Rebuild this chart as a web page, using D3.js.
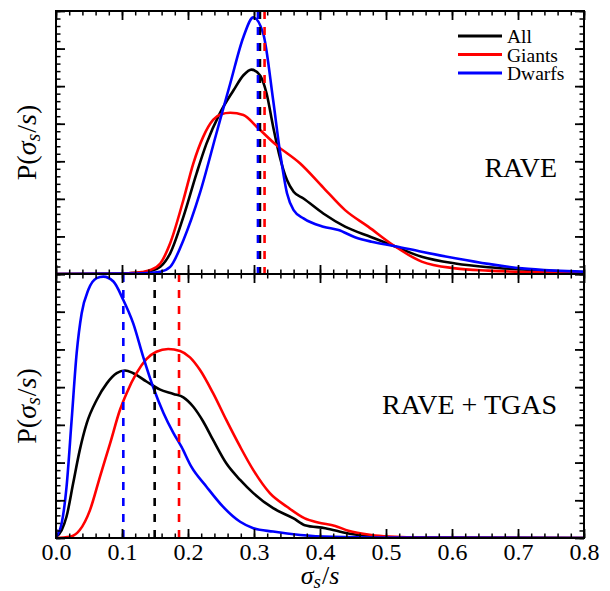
<!DOCTYPE html>
<html>
<head>
<meta charset="utf-8">
<script src="https://cdn.jsdelivr.net/npm/d3@7"></script>
<style>
  body { margin: 0; background: #fff; }
  text { font-family: "Liberation Serif", "DejaVu Serif", serif; fill: #000; }
</style>
</head>
<body>
<svg id="chart"></svg>
<script>
// x tick labels shared by both panels
const xTicks = [0, 0.1, 0.2, 0.3, 0.4, 0.5, 0.6, 0.7, 0.8];
const seriesNames = ['All', 'Giants', 'Dwarfs'];

// RAVE panel: [sigma_s/s, density]
const raveAll = [[0,0],[0.08,0.005],[0.11,0.02],[0.13,0.04],[0.142,0.07],[0.158,0.19],[0.173,0.55],[0.193,1.52],[0.213,2.68],[0.228,3.47],[0.248,4.27],[0.269,4.89],[0.284,5.29],[0.296,5.44],[0.309,5.29],[0.319,4.81],[0.329,3.92],[0.339,3.12],[0.35,2.5],[0.36,2.19],[0.375,2.01],[0.405,1.61],[0.438,1.26],[0.478,0.98],[0.514,0.73],[0.554,0.46],[0.605,0.28],[0.655,0.18],[0.706,0.12],[0.8,0.05]];
const raveGiants = [[0,0],[0.08,0.005],[0.11,0.02],[0.13,0.05],[0.142,0.1],[0.158,0.28],[0.173,0.82],[0.193,1.97],[0.208,2.94],[0.223,3.65],[0.238,4.1],[0.25,4.25],[0.264,4.29],[0.284,4.23],[0.304,3.92],[0.334,3.43],[0.37,2.94],[0.405,2.3],[0.438,1.7],[0.473,1.26],[0.514,0.73],[0.554,0.33],[0.605,0.15],[0.655,0.09],[0.73,0.05],[0.8,0.04]];
const raveDwarfs = [[0,0],[0.1,0.01],[0.13,0.02],[0.142,0.03],[0.158,0.06],[0.173,0.19],[0.193,0.9],[0.218,2.15],[0.243,3.74],[0.264,5.07],[0.284,6.31],[0.299,6.83],[0.314,6.4],[0.329,4.63],[0.339,3.3],[0.35,2.15],[0.36,1.7],[0.375,1.48],[0.405,1.26],[0.428,1.17],[0.453,0.98],[0.478,0.86],[0.514,0.74],[0.554,0.59],[0.605,0.42],[0.655,0.27],[0.706,0.15],[0.756,0.09],[0.8,0.06]];
const raveMedians = [0.309, 0.316, 0.306];

// RAVE + TGAS panel
const tgasAll = [[0,0.03],[0.0086,0.21],[0.016,0.57],[0.026,1.45],[0.036,2.33],[0.0465,3.04],[0.0616,3.66],[0.077,4.1],[0.092,4.37],[0.1045,4.44],[0.117,4.37],[0.137,4.15],[0.157,3.94],[0.178,3.82],[0.193,3.73],[0.208,3.48],[0.223,3.09],[0.238,2.6],[0.258,1.98],[0.279,1.54],[0.299,1.19],[0.329,0.79],[0.36,0.52],[0.377,0.34],[0.408,0.26],[0.443,0.12],[0.478,0.04],[0.52,0.01],[0.8,0]];
const tgasGiants = [[0,0],[0.021,0.03],[0.036,0.21],[0.0515,0.74],[0.0667,1.63],[0.082,2.51],[0.097,3.4],[0.107,3.84],[0.122,4.37],[0.137,4.74],[0.152,4.94],[0.17,5.01],[0.188,4.96],[0.203,4.79],[0.218,4.46],[0.238,3.84],[0.258,3.13],[0.279,2.42],[0.299,1.8],[0.324,1.19],[0.35,0.83],[0.377,0.52],[0.397,0.41],[0.423,0.32],[0.443,0.19],[0.478,0.08],[0.505,0.04],[0.56,0.01],[0.8,0]];
const tgasDwarfs = [[0,0.03],[0.0086,0.39],[0.016,1.36],[0.0237,3.13],[0.0313,4.9],[0.0389,5.96],[0.049,6.58],[0.0616,6.89],[0.0717,6.93],[0.087,6.8],[0.102,6.31],[0.117,5.69],[0.132,4.81],[0.147,4.01],[0.163,3.31],[0.178,2.78],[0.19,2.42],[0.205,1.89],[0.228,1.36],[0.253,0.83],[0.279,0.43],[0.299,0.26],[0.329,0.17],[0.37,0.08],[0.42,0.03],[0.5,0.01],[0.8,0]];
const tgasMedians = [0.1495, 0.1864, 0.102];

const width = 610, height = 591;
const left = 56, right = 584;

const color = d3.scaleOrdinal().domain(seriesNames).range(['#000000', '#ff0000', '#0000ff']);

const svg = d3.select('#chart').attr('width', width).attr('height', height);

const x = d3.scaleLinear().domain([0, 0.8]).range([left, right]);

const panels = [
  { name: 'RAVE', top: 11, bottom: 274, curves: [raveAll, raveGiants, raveDwarfs], medians: raveMedians, labelY: 177, last: false },
  { name: 'RAVE + TGAS', top: 274, bottom: 538, curves: [tgasAll, tgasGiants, tgasDwarfs], medians: tgasMedians, labelY: 414, last: true }
];

function styleAxis(g, w) {
  g.select('.domain').remove();
  g.selectAll('line').attr('stroke', '#000').attr('stroke-width', w);
  g.attr('font-family', null).attr('font-size', null);
}

// subscripted label: sigma_s / s
function mathLabel(t, withP, subSize) {
  if (withP) t.append('tspan').text('P(');
  t.append('tspan').attr('font-style', 'italic').text('σ');
  t.append('tspan').attr('font-style', 'italic').attr('font-size', subSize).attr('dy', 3.5).text('s');
  t.append('tspan').attr('dy', -3.5).attr('dx', 1).text('/');
  t.append('tspan').attr('font-style', 'italic').text('s');
  if (withP) t.append('tspan').text(')');
}

panels.forEach((p, pi) => {
  const y = d3.scaleLinear().domain([0, 7]).range([p.bottom, p.top]);
  const g = svg.append('g');

  const clipId = 'clip' + pi;
  svg.append('clipPath').attr('id', clipId)
    .append('rect')
    .attr('x', left).attr('y', p.top)
    .attr('width', right - left).attr('height', p.bottom - p.top);

  const line = d3.line()
    .x(d => x(d[0]))
    .y(d => y(d[1]))
    .curve(d3.curveMonotoneX);

  const plot = g.append('g').attr('clip-path', `url(#${clipId})`);

  p.curves.forEach((c, i) => {
    plot.append('path')
      .datum(c)
      .attr('fill', 'none')
      .attr('stroke', color(seriesNames[i]))
      .attr('stroke-width', 2.6)
      .attr('stroke-linejoin', 'round')
      .attr('d', line);
  });

  p.medians.forEach((m, i) => {
    plot.append('line')
      .attr('x1', x(m)).attr('x2', x(m))
      .attr('y1', y(7)).attr('y2', y(0))
      .attr('stroke', color(seriesNames[i]))
      .attr('stroke-width', 2.6)
      .attr('stroke-dasharray', '8,8');
  });

  // ticks, all pointing inward
  const minorX = x.ticks(40), minorY = y.ticks(35);

  g.append('g').attr('transform', `translate(0,${p.top})`)
    .call(d3.axisTop(x).tickValues(minorX).tickSize(-4.5).tickFormat(''))
    .call(a => styleAxis(a, 1.5));
  g.append('g').attr('transform', `translate(0,${p.top})`)
    .call(d3.axisTop(x).tickValues(xTicks).tickSize(-9).tickFormat(''))
    .call(a => styleAxis(a, 1.8));

  g.append('g').attr('transform', `translate(0,${p.bottom})`)
    .call(d3.axisBottom(x).tickValues(minorX).tickSize(-4.5).tickFormat(''))
    .call(a => styleAxis(a, 1.5));
  const bx = g.append('g').attr('transform', `translate(0,${p.bottom})`)
    .call(d3.axisBottom(x).tickValues(xTicks).tickSize(-9).tickPadding(5)
      .tickFormat(p.last ? d3.format('.1f') : ''))
    .call(a => styleAxis(a, 1.8));
  bx.selectAll('text').attr('font-size', 24).attr('fill', '#000');

  g.append('g').attr('transform', `translate(${left},0)`)
    .call(d3.axisLeft(y).tickValues(minorY).tickSize(-4.5).tickFormat(''))
    .call(a => styleAxis(a, 1.5));
  g.append('g').attr('transform', `translate(${left},0)`)
    .call(d3.axisLeft(y).ticks(7).tickSize(-9).tickFormat(''))
    .call(a => styleAxis(a, 1.8));
  g.append('g').attr('transform', `translate(${right},0)`)
    .call(d3.axisRight(y).tickValues(minorY).tickSize(-4.5).tickFormat(''))
    .call(a => styleAxis(a, 1.5));
  g.append('g').attr('transform', `translate(${right},0)`)
    .call(d3.axisRight(y).ticks(7).tickSize(-9).tickFormat(''))
    .call(a => styleAxis(a, 1.8));

  // frame
  g.append('rect')
    .attr('x', left).attr('y', p.top)
    .attr('width', right - left).attr('height', p.bottom - p.top)
    .attr('fill', 'none').attr('stroke', '#000').attr('stroke-width', 2);

  // panel name
  g.append('text')
    .attr('x', 557).attr('y', p.labelY)
    .attr('text-anchor', 'end')
    .attr('font-size', 28)
    .text(p.name);

  // y label P(sigma_s/s)
  const yl = g.append('text')
    .attr('transform', `translate(36,${(p.top + p.bottom) / 2}) rotate(-90)`)
    .attr('text-anchor', 'middle')
    .attr('font-size', 28);
  mathLabel(yl, true, 20);
});

// legend in the top panel
const legend = svg.append('g');
seriesNames.forEach((n, i) => {
  const ly = 36 + i * 18.5;
  legend.append('line')
    .attr('x1', 458).attr('x2', 502)
    .attr('y1', ly).attr('y2', ly)
    .attr('stroke', color(n)).attr('stroke-width', 3);
  legend.append('text')
    .attr('x', 507).attr('y', ly + 7)
    .attr('font-size', 19.5)
    .text(n);
});

// x label
const xl = svg.append('text')
  .attr('x', (left + right) / 2).attr('y', 584)
  .attr('text-anchor', 'middle')
  .attr('font-size', 26);
mathLabel(xl, false, 19);
</script>
</body>
</html>
